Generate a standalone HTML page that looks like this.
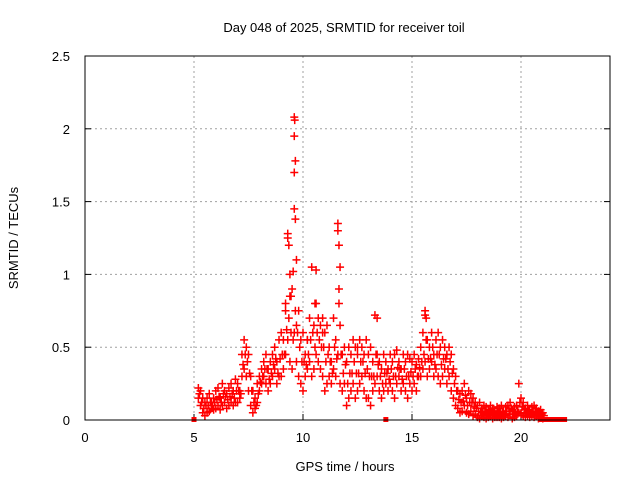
<!DOCTYPE html>
<html><head><meta charset="utf-8"><style>
body{margin:0;background:#fff;}
svg text{font-family:"Liberation Sans",sans-serif;font-size:13px;fill:#000;}
</style></head><body>
<svg id="chart" width="640" height="480">
<text x="344" y="32" text-anchor="middle">Day 048 of 2025, SRMTID for receiver toil</text>
<text x="345" y="471" text-anchor="middle">GPS time / hours</text>
<text transform="translate(18,238) rotate(-90)" text-anchor="middle">SRMTID / TECUs</text>
<g id="grid"></g><g id="ticks"></g><g id="marks"></g>
<rect x="85" y="56" width="525" height="364" fill="none" stroke="#000" stroke-width="1"/>
</svg>
<script>
const xTicks=[0,5,10,15,20];
const yTicks=[0,0.5,1,1.5,2,2.5];
const yTickLabels=["0","0.5","1","1.5","2","2.5"];
const tStart=5.2, tStep=0.1;
const valsA=[.22,.2,.15,.12,.15,.18,.12,.15,
.2,.22,.15,.25,.2,.18,.22,.25,.2,.28,
.25,.2,.45,.55,.5,.45,.3,.2,.15,.25,
.3,.35,.4,.45,.35,.4,.45,.5,.4,.55,
.6,.55,.8,1.28,.85,.9,2.08,1.1,.75,.55,
.6,.45,.55,.7,1.05,.65,.8,.7,.65,.7,
.6,.65,.5,.4,.7,.55,1.35,.65,.45,.5,
.4,.5,.45,.55,.5,.45,.55,.5,.45,.55,
.45,.5,.4,.72,.45,.4,.35,.45,.4,.35,
.45,.4,.45,.48,.4,.35,.45,.4,.45,.42,
.4,.45,.38,.42,.5,.6,.75,.55,.5,.6,
.45,.55,.6,.5,.55,.5,.45,.5,.45,.35,
.3,.2,.18,.2,.25,.15,.2,.18,.15,.12,
.1,.12,.08,.1,.09,.07,.1,.08,.06,.09,
.08,.1,.06,.09,.1,.12,.07,.09,.1,.25,
.15,.12,.08,.1,.07,.09,.1,.08,.06,.07,.05];
const valsB=[.15,.1,.05,.03,.05,.06,.08,.07,
.08,.1,.07,.1,.12,.08,.1,.12,.1,.12,
.12,.15,.3,.35,.3,.2,.1,.05,.08,.12,
.2,.25,.3,.25,.2,.25,.3,.35,.25,.3,
.3,.35,.45,.55,.4,.35,.6,.4,.3,.25,
.2,.3,.35,.4,.3,.35,.45,.4,.35,.3,
.2,.25,.3,.25,.35,.3,.45,.25,.2,.25,
.1,.15,.2,.25,.15,.2,.25,.3,.2,.15,
.15,.1,.2,.25,.3,.2,.15,.2,.25,.2,
.25,.2,.15,.25,.3,.2,.25,.2,.15,.25,
.2,.25,.2,.3,.3,.35,.4,.3,.35,.4,
.3,.35,.3,.25,.3,.35,.25,.3,.2,.15,
.1,.08,.05,.06,.1,.05,.04,.06,.03,.04,
.02,.01,.03,.02,.01,.02,.03,.01,.02,.02,
.02,.01,.02,.03,.02,.04,.01,.02,.03,.05,
.04,.03,.02,.03,.02,.03,.02,.03,.01,.02,.01];
const valsC=[.18,.12,.08,.1,.1,.12,.1,.12,
.14,.16,.12,.18,.16,.14,.16,.18,.15,.2,
.2,.18,.38,.45,.4,.32,.2,.12,.1,.18,
.26,.3,.35,.35,.28,.32,.38,.42,.32,.42,
.45,.45,.62,.7,.6,.55,.75,.6,.5,.4,
.4,.38,.45,.55,.6,.5,.6,.55,.5,.5,
.4,.45,.4,.32,.5,.42,.8,.45,.32,.38,
.25,.32,.32,.4,.32,.32,.4,.4,.32,.35,
.3,.3,.3,.45,.38,.3,.25,.32,.32,.28,
.35,.3,.3,.36,.35,.28,.35,.3,.3,.33,
.3,.35,.3,.36,.4,.45,.55,.42,.42,.5,
.38,.45,.45,.38,.42,.42,.35,.4,.32,.25,
.2,.14,.12,.13,.17,.1,.12,.12,.09,.08,
.06,.06,.05,.06,.05,.04,.06,.05,.04,.05,
.05,.05,.04,.06,.06,.08,.04,.05,.06,.12,
.09,.07,.05,.06,.04,.06,.06,.05,.03,.04,.03];
const spikeTimes=[9.3,9.35,9.4,9.45,9.6,9.65,9.6,9.65,9.6,9.55,9.62,10.6,10.55,11.65,11.6,11.7,11.65,13.4,15.6,15.65,9.2,9.7,10.2,10.9,12.5];
const spikeVals=[1.25,1.2,1.0,0.85,1.95,1.78,1.45,1.38,1.7,1.02,2.06,1.03,0.8,1.2,1.3,1.05,0.9,0.7,0.72,0.7,0.75,0.65,0.55,0.6,0.5];
const zeroTimes=[5.0,13.8,20.9,21.0,21.1,21.2,21.3,21.4,21.5,21.6,21.7,21.8,21.9,22.0];
const NS="http://www.w3.org/2000/svg";
const X=h=>85+h*21.8, Y=v=>420-v*145.6;
function el(tag,attrs,parent){const e=document.createElementNS(NS,tag);for(const k in attrs)e.setAttribute(k,attrs[k]);parent.appendChild(e);return e;}
const grid=document.getElementById('grid'),ticks=document.getElementById('ticks'),marks=document.getElementById('marks');
xTicks.forEach((t,i)=>{
  if(t>0){const g=el('line',{x1:X(t),x2:X(t),y1:56,y2:420,stroke:'#a0a0a0','stroke-dasharray':'2,3'},grid);
  
  }
  el('line',{x1:X(t),x2:X(t),y1:420,y2:414,stroke:'#000'},ticks);
  const tx=el('text',{x:X(t),y:442,'text-anchor':'middle'},ticks);tx.textContent=t;
  
  
});
yTicks.forEach((v,i)=>{
  if(v>0&&v<2.5){const g=el('line',{x1:85,x2:610,y1:Y(v),y2:Y(v),stroke:'#a0a0a0','stroke-dasharray':'2,3'},grid);
  
  }
  el('line',{x1:85,x2:91,y1:Y(v),y2:Y(v),stroke:'#000'},ticks);
  el('line',{x1:604,x2:610,y1:Y(v),y2:Y(v),stroke:'#000'},ticks);
  const tx=el('text',{x:70,y:Y(v)+5,'text-anchor':'end'},ticks);tx.textContent=yTickLabels[i];
  
  
});
function plus(t,v){
  const x=X(t),y=Y(v);
  const p=el('path',{d:`M${x-4} ${y}H${x+4}M${x} ${y-4}V${y+4}`,stroke:'#f00','stroke-width':1.5,fill:'none'},marks);
  
  
}
valsA.forEach((v,i)=>plus(tStart+i*tStep,v));
valsB.forEach((v,i)=>plus(tStart+i*tStep,v));
valsC.forEach((v,i)=>plus(tStart+(i+0.5)*tStep,v));
spikeTimes.forEach((t,i)=>plus(t,spikeVals[i]));
zeroTimes.forEach(t=>{
  const r=el('rect',{x:X(t)-2.5,y:417,width:5,height:5,fill:'#f00'},marks);
  
  
});
</script>
</body></html>
